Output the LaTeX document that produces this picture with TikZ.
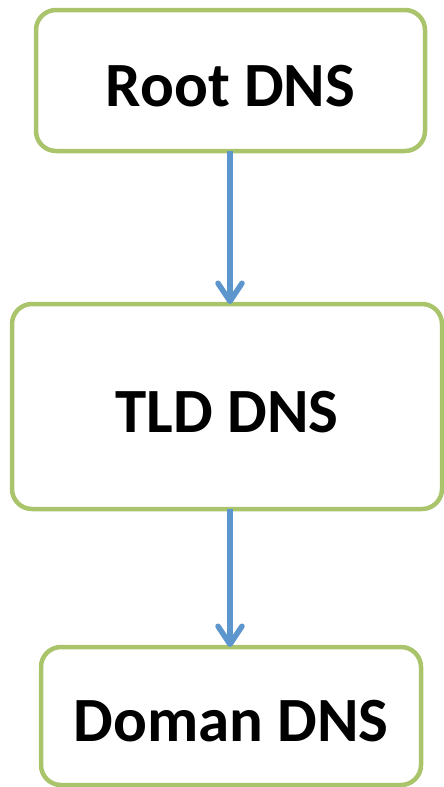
\documentclass[tikz,border=0pt]{standalone}
\usepackage{fontspec}
\setmainfont{Carlito}
\usetikzlibrary{arrows.meta}
\definecolor{boxgreen}{RGB}{170,196,108}
\definecolor{arrowblue}{RGB}{92,150,205}

\begin{document}
\begin{tikzpicture}[
        x=1pt, y=-1pt,
        box/.style={rectangle, draw=boxgreen, line width=4.5pt, rounded corners=20pt,
                    fill=white, outer sep=0pt, inner sep=0pt, align=center,
                    font=\fontsize{63}{63}\selectfont\bfseries, text height=52pt},
        arrow/.style={-{Straight Barb[length=18pt, width=24pt, round]},
                      draw=arrowblue, line width=5.5pt},
    ]
    \useasboundingbox (0,0) rectangle (444,787);

    % ====== 服务器层级 ======
    \node[box, minimum width=389pt, minimum height=141pt] (root) at (230.5, 80.5) {Root DNS};
    \node[box, minimum width=430pt, minimum height=205pt] (tld) at (227, 406.5) {TLD DNS};
    \node[box, minimum width=380pt, minimum height=138pt] (domain) at (231, 716) {Doman DNS};

    % ====== 箭头 ======
    \draw[arrow] (root.south -| 230,0) -- (tld.north -| 230,0);
    \draw[arrow] (tld.south -| 230,0) -- (domain.north -| 230,0);

\end{tikzpicture}
\end{document}
